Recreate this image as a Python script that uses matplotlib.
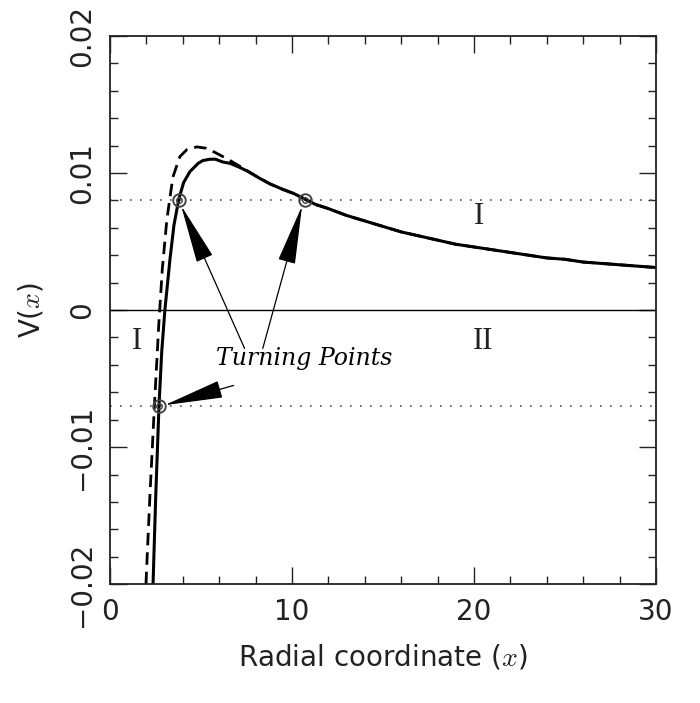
import matplotlib
matplotlib.use('Agg')
import matplotlib.pyplot as plt

plt.rcParams['mathtext.fontset'] = 'cm'
plt.rcParams['font.family'] = 'DejaVu Sans'

# solid curve
x_solid = [2.37, 2.52, 2.70, 2.85, 3.02, 3.30, 3.52, 3.79, 4.05, 4.40, 4.85, 5.10, 5.49,
           5.80, 6.20, 6.60, 7.14, 7.60, 8.24, 8.80, 9.50, 10.10, 10.70, 11.30, 12, 13,
           14, 15, 16, 17, 18, 19, 20, 21, 22, 23, 24, 25, 26, 27, 28, 29, 30]
v_solid = [-0.020, -0.0135, -0.0069, -0.0030, 0.0, 0.0037, 0.0062, 0.0081, 0.0093,
           0.0101, 0.0107, 0.0109, 0.0110, 0.0110, 0.0108, 0.0107, 0.0104, 0.0101,
           0.0096, 0.0092, 0.0088, 0.0085, 0.0081, 0.0077, 0.0074, 0.0069, 0.0065,
           0.0061, 0.0057, 0.0054, 0.0051, 0.0048, 0.0046, 0.0044, 0.0042, 0.0040,
           0.0038, 0.0037, 0.0035, 0.0034, 0.0033, 0.0032, 0.0031]

# dashed curve (merges with the solid one past x~7.5)
x_dash = [1.98, 2.20, 2.45, 2.68, 2.88, 3.13, 3.46, 3.85, 4.23, 4.78, 5.30, 5.77,
          6.48, 7.50, 8.24, 8.80, 9.50, 10.10, 10.70, 11.30, 12, 13, 14, 15, 16, 17,
          18, 19, 20, 21, 22, 23, 24, 25, 26, 27, 28, 29, 30]
v_dash = [-0.020, -0.0135, -0.0069, -0.0012, 0.0030, 0.0066, 0.0097, 0.0112, 0.0117,
          0.0119, 0.0118, 0.0115, 0.0110, 0.0102, 0.0096, 0.0092, 0.0088, 0.0085,
          0.0081, 0.0077, 0.0074, 0.0069, 0.0065, 0.0061, 0.0057, 0.0054, 0.0051,
          0.0048, 0.0046, 0.0044, 0.0042, 0.0040, 0.0038, 0.0037, 0.0035, 0.0034,
          0.0033, 0.0032, 0.0031]

energy_levels = [0.008, -0.007]
turn_x = [2.70, 3.79, 10.70]
turn_v = [-0.007, 0.008, 0.008]

region_labels = ['I', 'I', 'II']
region_x = [1.5, 20.3, 20.5]
region_v = [-0.0023, 0.0068, -0.0023]

fig = plt.figure(figsize=(7, 7.03), dpi=100)
ax = fig.add_axes([0.157, 0.169, 0.78, 0.78])

ax.axhline(0, color='k', lw=1.0)
for e in energy_levels:
    ax.axhline(e, color='#555555', lw=1.2, linestyle=(0, (1, 5)))

ax.plot(x_dash, v_dash, color='k', lw=2.0, linestyle=(0, (4.5, 2.5)))
ax.plot(x_solid, v_solid, color='k', lw=2.2)

ax.plot(turn_x, turn_v, 'o', ms=9, mfc='none', mec='#444444', mew=1.4)
ax.plot(turn_x, turn_v, 'o', ms=4, mfc='none', mec='#444444', mew=1.0)

# arrows from the label to the turning points
starts = [(7.4, -0.0028), (8.4, -0.0028), (6.8, -0.0055)]
arrow_targets = [(3.85, 0.0078), (10.6, 0.0078), (2.85, -0.007)]
head = '-|>,head_length=1.9,head_width=0.28'
for (sx, sy), (tx, tv) in zip(starts, arrow_targets):
    ax.annotate('', xy=(tx, tv), xytext=(sx, sy),
                arrowprops=dict(arrowstyle=head, mutation_scale=20, lw=0.9,
                                color='k', shrinkA=0, shrinkB=2))

ax.text(10.7, -0.0035, 'Turning Points', fontsize=17, family='DejaVu Serif',
        style='italic', ha='center', va='center')

for lab, rx, rv in zip(region_labels, region_x, region_v):
    ax.text(rx, rv, lab, fontsize=22, family='Liberation Serif',
            ha='center', va='center', color='#222222')

ax.set_xlim(0, 30)
ax.set_ylim(-0.02, 0.02)
ax.set_xticks([0, 10, 20, 30])
ax.set_xticks(range(0, 31, 2), minor=True)
ax.set_yticks([-0.02, -0.01, 0, 0.01, 0.02])
ax.set_yticks([i * 0.002 - 0.02 for i in range(21)], minor=True)
ax.set_xticklabels(['0', '10', '20', '30'])
ax.set_yticklabels(['\u22120.02', '\u22120.01', '0', '0.01', '0.02'],
                   rotation=90, va='center')

ax.tick_params(which='both', direction='in', top=True, right=True,
               labelsize=20, colors='#222222')
ax.tick_params(which='major', length=12, width=1.0, pad=10)
ax.tick_params(which='minor', length=6, width=1.0)
for s in ax.spines.values():
    s.set_linewidth(1.3)
    s.set_color('#222222')

ax.set_xlabel('Radial coordinate ($x$)', fontsize=20, labelpad=12, color='#222222')
ax.set_ylabel('V($x$)', fontsize=20, labelpad=16, color='#222222')

fig.savefig('out.png', dpi=100)
